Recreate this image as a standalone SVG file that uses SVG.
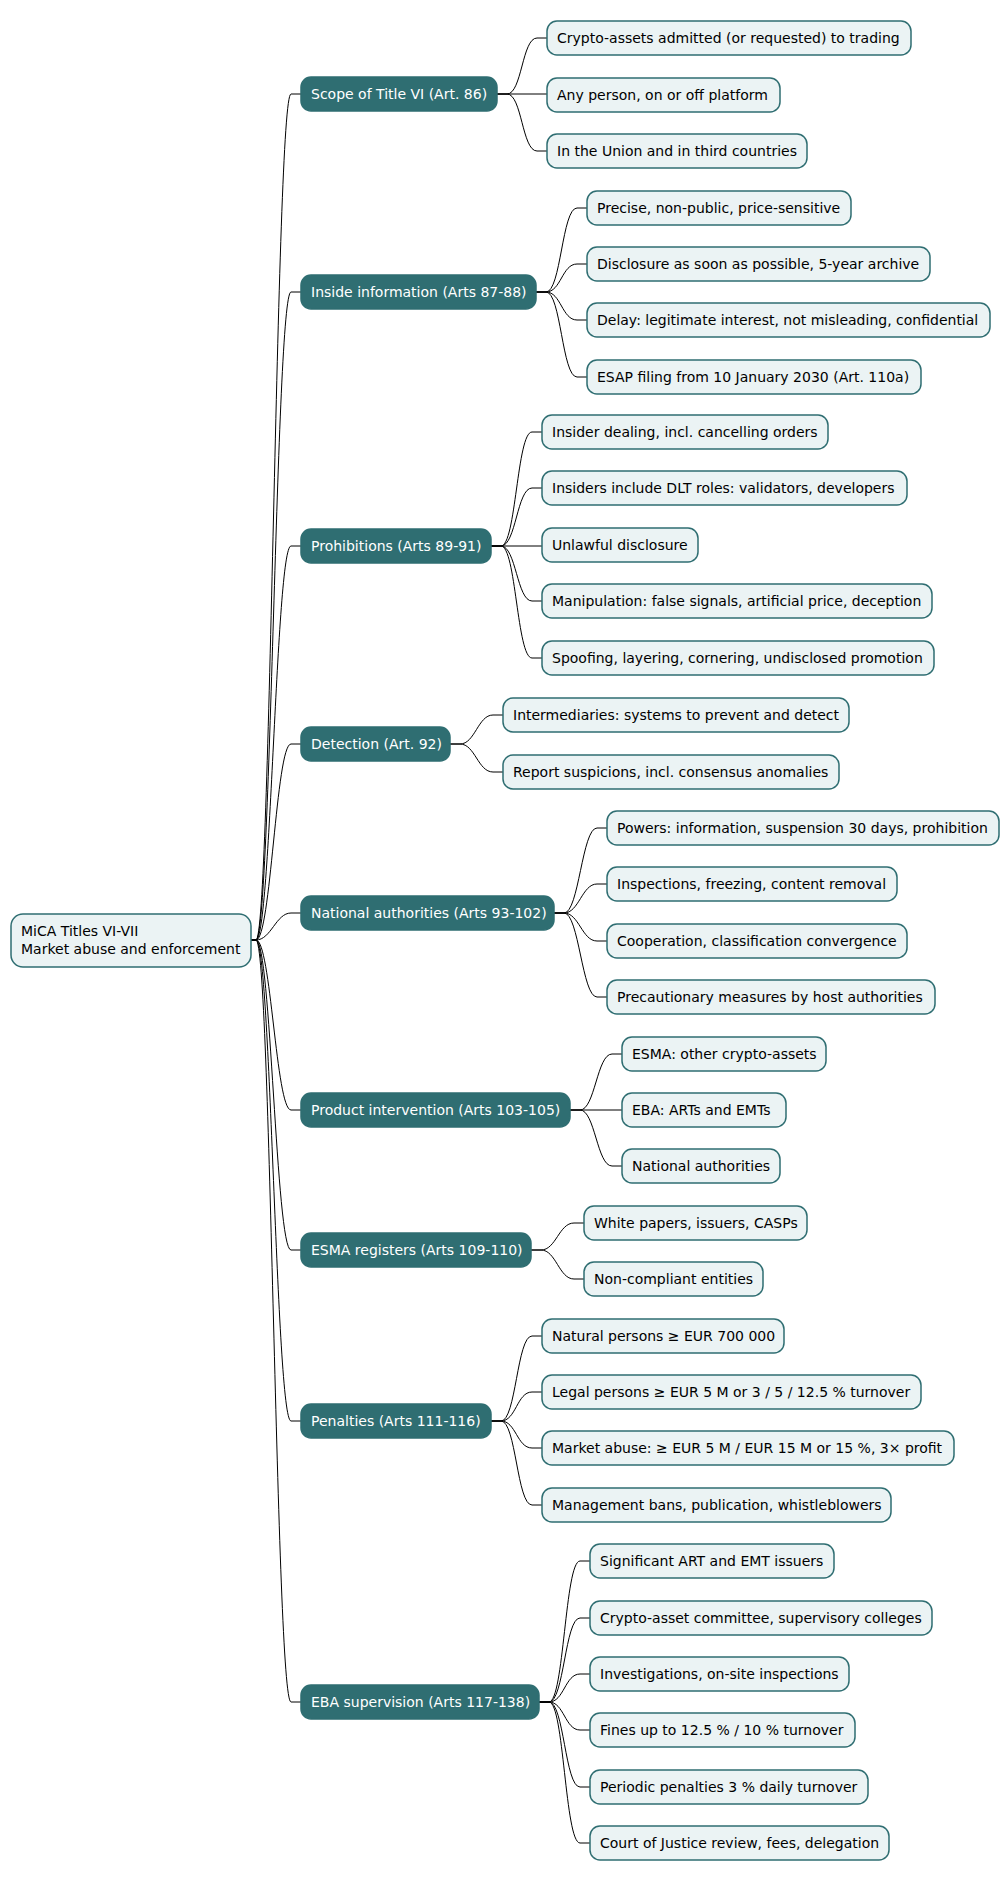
<svg xmlns="http://www.w3.org/2000/svg" width="1008" height="1878" viewBox="0 0 1008 1878">
<style>
text{font-family:"DejaVu Sans","Liberation Sans",sans-serif;font-size:14px}
.l{fill:#EBF3F4;stroke:#2F6E72;stroke-width:1.5}
.d{fill:#2F6E72;stroke:#2F6E72;stroke-width:1.5}
.dt{fill:#ffffff}
.lt{fill:#000000}
#c path{fill:none;stroke:#000;stroke-width:1}
</style>
<g id="c">
<path d="M251 940 L256 940 C271 940 276 94 291 94 L301 94"/>
<path d="M251 940 L256 940 C271 940 276 292 291 292 L301 292"/>
<path d="M251 940 L256 940 C271 940 276 546 291 546 L301 546"/>
<path d="M251 940 L256 940 C271 940 276 744 291 744 L301 744"/>
<path d="M251 940 L256 940 C271 940 276 913 291 913 L301 913"/>
<path d="M251 940 L256 940 C271 940 276 1110 291 1110 L301 1110"/>
<path d="M251 940 L256 940 C271 940 276 1250 291 1250 L301 1250"/>
<path d="M251 940 L256 940 C271 940 276 1421 291 1421 L301 1421"/>
<path d="M251 940 L256 940 C271 940 276 1702 291 1702 L301 1702"/>
<path d="M497 94 L507 94 C522 94 522 38 537 38 L547 38"/>
<path d="M497 94 L547 94"/>
<path d="M497 94 L507 94 C522 94 522 151 537 151 L547 151"/>
<path d="M536 292 L546 292 C561 292 562 208 577 208 L587 208"/>
<path d="M536 292 L546 292 C561 292 562 264 577 264 L587 264"/>
<path d="M536 292 L546 292 C561 292 562 320 577 320 L587 320"/>
<path d="M536 292 L546 292 C561 292 562 377 577 377 L587 377"/>
<path d="M491 546 L501 546 C516 546 517 432 532 432 L542 432"/>
<path d="M491 546 L501 546 C516 546 517 488 532 488 L542 488"/>
<path d="M491 546 L542 546"/>
<path d="M491 546 L501 546 C516 546 517 601 532 601 L542 601"/>
<path d="M491 546 L501 546 C516 546 517 658 532 658 L542 658"/>
<path d="M450 744 L460 744 C475 744 478 715 493 715 L503 715"/>
<path d="M450 744 L460 744 C475 744 478 772 493 772 L503 772"/>
<path d="M554 913 L564 913 C579 913 582 828 597 828 L607 828"/>
<path d="M554 913 L564 913 C579 913 582 884 597 884 L607 884"/>
<path d="M554 913 L564 913 C579 913 582 941 597 941 L607 941"/>
<path d="M554 913 L564 913 C579 913 582 997 597 997 L607 997"/>
<path d="M570 1110 L580 1110 C595 1110 597 1054 612 1054 L622 1054"/>
<path d="M570 1110 L622 1110"/>
<path d="M570 1110 L580 1110 C595 1110 597 1166 612 1166 L622 1166"/>
<path d="M531 1250 L541 1250 C556 1250 559 1223 574 1223 L584 1223"/>
<path d="M531 1250 L541 1250 C556 1250 559 1279 574 1279 L584 1279"/>
<path d="M491 1421 L501 1421 C516 1421 517 1336 532 1336 L542 1336"/>
<path d="M491 1421 L501 1421 C516 1421 517 1392 532 1392 L542 1392"/>
<path d="M491 1421 L501 1421 C516 1421 517 1448 532 1448 L542 1448"/>
<path d="M491 1421 L501 1421 C516 1421 517 1505 532 1505 L542 1505"/>
<path d="M539 1702 L549 1702 C564 1702 565 1561 580 1561 L590 1561"/>
<path d="M539 1702 L549 1702 C564 1702 565 1618 580 1618 L590 1618"/>
<path d="M539 1702 L549 1702 C564 1702 565 1674 580 1674 L590 1674"/>
<path d="M539 1702 L549 1702 C564 1702 565 1730 580 1730 L590 1730"/>
<path d="M539 1702 L549 1702 C564 1702 565 1787 580 1787 L590 1787"/>
<path d="M539 1702 L549 1702 C564 1702 565 1843 580 1843 L590 1843"/>
</g>
<g id="root"><rect class="l" x="11" y="914" width="240" height="53" rx="12"/><text class="lt" x="21" y="936">MiCA Titles VI-VII</text><text class="lt" x="21" y="954">Market abuse and enforcement</text></g>
<g id="n1"><rect class="d" x="301" y="77" width="196" height="34" rx="10"/><text class="dt" x="311" y="99">Scope of Title VI (Art. 86)</text></g>
<g id="n2"><rect class="d" x="301" y="275" width="235" height="34" rx="10"/><text class="dt" x="311" y="297">Inside information (Arts 87-88)</text></g>
<g id="n3"><rect class="d" x="301" y="529" width="190" height="34" rx="10"/><text class="dt" x="311" y="551">Prohibitions (Arts 89-91)</text></g>
<g id="n4"><rect class="d" x="301" y="727" width="149" height="34" rx="10"/><text class="dt" x="311" y="749">Detection (Art. 92)</text></g>
<g id="n5"><rect class="d" x="301" y="896" width="253" height="34" rx="10"/><text class="dt" x="311" y="918">National authorities (Arts 93-102)</text></g>
<g id="n6"><rect class="d" x="301" y="1093" width="269" height="34" rx="10"/><text class="dt" x="311" y="1115">Product intervention (Arts 103-105)</text></g>
<g id="n7"><rect class="d" x="301" y="1233" width="230" height="34" rx="10"/><text class="dt" x="311" y="1255">ESMA registers (Arts 109-110)</text></g>
<g id="n8"><rect class="d" x="301" y="1404" width="190" height="34" rx="10"/><text class="dt" x="311" y="1426">Penalties (Arts 111-116)</text></g>
<g id="n9"><rect class="d" x="301" y="1685" width="238" height="34" rx="10"/><text class="dt" x="311" y="1707">EBA supervision (Arts 117-138)</text></g>
<g id="n1a"><rect class="l" x="547" y="21" width="364" height="34" rx="10"/><text class="lt" x="557" y="43">Crypto-assets admitted (or requested) to trading</text></g>
<g id="n1b"><rect class="l" x="547" y="78" width="233" height="34" rx="10"/><text class="lt" x="557" y="100">Any person, on or off platform</text></g>
<g id="n1c"><rect class="l" x="547" y="134" width="260" height="34" rx="10"/><text class="lt" x="557" y="156">In the Union and in third countries</text></g>
<g id="n2a"><rect class="l" x="587" y="191" width="264" height="34" rx="10"/><text class="lt" x="597" y="213">Precise, non-public, price-sensitive</text></g>
<g id="n2b"><rect class="l" x="587" y="247" width="343" height="34" rx="10"/><text class="lt" x="597" y="269">Disclosure as soon as possible, 5-year archive</text></g>
<g id="n2c"><rect class="l" x="587" y="303" width="403" height="34" rx="10"/><text class="lt" x="597" y="325">Delay: legitimate interest, not misleading, confidential</text></g>
<g id="n2d"><rect class="l" x="587" y="360" width="334" height="34" rx="10"/><text class="lt" x="597" y="382">ESAP filing from 10 January 2030 (Art. 110a)</text></g>
<g id="n3a"><rect class="l" x="542" y="415" width="286" height="34" rx="10"/><text class="lt" x="552" y="437">Insider dealing, incl. cancelling orders</text></g>
<g id="n3b"><rect class="l" x="542" y="471" width="365" height="34" rx="10"/><text class="lt" x="552" y="493">Insiders include DLT roles: validators, developers</text></g>
<g id="n3c"><rect class="l" x="542" y="528" width="156" height="34" rx="10"/><text class="lt" x="552" y="550">Unlawful disclosure</text></g>
<g id="n3d"><rect class="l" x="542" y="584" width="390" height="34" rx="10"/><text class="lt" x="552" y="606">Manipulation: false signals, artificial price, deception</text></g>
<g id="n3e"><rect class="l" x="542" y="641" width="392" height="34" rx="10"/><text class="lt" x="552" y="663">Spoofing, layering, cornering, undisclosed promotion</text></g>
<g id="n4a"><rect class="l" x="503" y="698" width="346" height="34" rx="10"/><text class="lt" x="513" y="720">Intermediaries: systems to prevent and detect</text></g>
<g id="n4b"><rect class="l" x="503" y="755" width="336" height="34" rx="10"/><text class="lt" x="513" y="777">Report suspicions, incl. consensus anomalies</text></g>
<g id="n5a"><rect class="l" x="607" y="811" width="392" height="34" rx="10"/><text class="lt" x="617" y="833">Powers: information, suspension 30 days, prohibition</text></g>
<g id="n5b"><rect class="l" x="607" y="867" width="290" height="34" rx="10"/><text class="lt" x="617" y="889">Inspections, freezing, content removal</text></g>
<g id="n5c"><rect class="l" x="607" y="924" width="300" height="34" rx="10"/><text class="lt" x="617" y="946">Cooperation, classification convergence</text></g>
<g id="n5d"><rect class="l" x="607" y="980" width="328" height="34" rx="10"/><text class="lt" x="617" y="1002">Precautionary measures by host authorities</text></g>
<g id="n6a"><rect class="l" x="622" y="1037" width="204" height="34" rx="10"/><text class="lt" x="632" y="1059">ESMA: other crypto-assets</text></g>
<g id="n6b"><rect class="l" x="622" y="1093" width="164" height="34" rx="10"/><text class="lt" x="632" y="1115">EBA: ARTs and EMTs</text></g>
<g id="n6c"><rect class="l" x="622" y="1149" width="158" height="34" rx="10"/><text class="lt" x="632" y="1171">National authorities</text></g>
<g id="n7a"><rect class="l" x="584" y="1206" width="223" height="34" rx="10"/><text class="lt" x="594" y="1228">White papers, issuers, CASPs</text></g>
<g id="n7b"><rect class="l" x="584" y="1262" width="179" height="34" rx="10"/><text class="lt" x="594" y="1284">Non-compliant entities</text></g>
<g id="n8a"><rect class="l" x="542" y="1319" width="242" height="34" rx="10"/><text class="lt" x="552" y="1341">Natural persons ≥ EUR 700 000</text></g>
<g id="n8b"><rect class="l" x="542" y="1375" width="379" height="34" rx="10"/><text class="lt" x="552" y="1397">Legal persons ≥ EUR 5 M or 3 / 5 / 12.5 % turnover</text></g>
<g id="n8c"><rect class="l" x="542" y="1431" width="412" height="34" rx="10"/><text class="lt" x="552" y="1453">Market abuse: ≥ EUR 5 M / EUR 15 M or 15 %, 3× profit</text></g>
<g id="n8d"><rect class="l" x="542" y="1488" width="349" height="34" rx="10"/><text class="lt" x="552" y="1510">Management bans, publication, whistleblowers</text></g>
<g id="n9a"><rect class="l" x="590" y="1544" width="244" height="34" rx="10"/><text class="lt" x="600" y="1566">Significant ART and EMT issuers</text></g>
<g id="n9b"><rect class="l" x="590" y="1601" width="342" height="34" rx="10"/><text class="lt" x="600" y="1623">Crypto-asset committee, supervisory colleges</text></g>
<g id="n9c"><rect class="l" x="590" y="1657" width="259" height="34" rx="10"/><text class="lt" x="600" y="1679">Investigations, on-site inspections</text></g>
<g id="n9d"><rect class="l" x="590" y="1713" width="265" height="34" rx="10"/><text class="lt" x="600" y="1735">Fines up to 12.5 % / 10 % turnover</text></g>
<g id="n9e"><rect class="l" x="590" y="1770" width="278" height="34" rx="10"/><text class="lt" x="600" y="1792">Periodic penalties 3 % daily turnover</text></g>
<g id="n9f"><rect class="l" x="590" y="1826" width="299" height="34" rx="10"/><text class="lt" x="600" y="1848">Court of Justice review, fees, delegation</text></g>
</svg>
